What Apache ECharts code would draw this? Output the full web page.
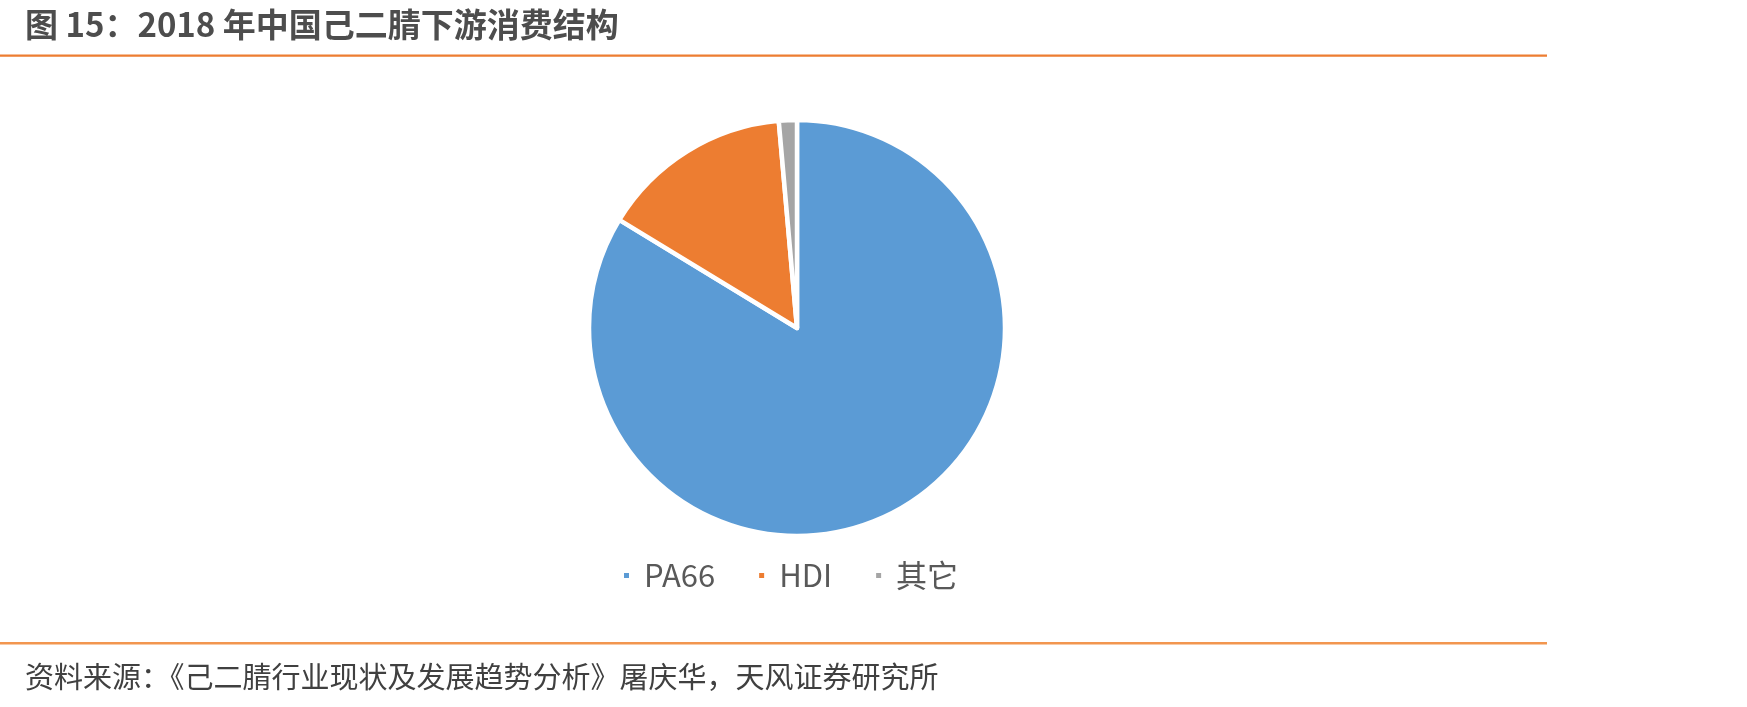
<!DOCTYPE html>
<html>
<head>
<meta charset="utf-8">
<script src="https://cdn.jsdelivr.net/npm/echarts@6/dist/echarts.min.js"></script>
<style>
html,body{margin:0;padding:0;background:#fff;}
#chart{width:1747px;height:707px;}
</style>
</head>
<body>
<div id="chart"></div>
<script>
var categories = ['PA66', 'HDI', '其它'];
var shares = [83.7, 14.9, 1.4];
var colors = ['#5B9BD5', '#ED7D31', '#A5A5A5'];
var titleText = '图 15：2018 年中国己二腈下游消费结构';
var sourceText = '资料来源：《己二腈行业现状及发展趋势分析》屠庆华，天风证券研究所';

var chart = echarts.init(document.getElementById('chart'));
var font = '"Noto Sans CJK SC", "Noto Sans", sans-serif';
chart.setOption({
  animation: false,
  backgroundColor: '#ffffff',
  color: colors,
  title: [
    {
      text: titleText,
      left: 20,
      top: 3,
      textStyle: {fontFamily: font, fontSize: 33, fontWeight: 'bold', color: '#4d4d4d'}
    },
    {
      text: sourceText,
      left: 20,
      top: 657,
      textStyle: {fontFamily: font, fontSize: 29, fontWeight: 'normal', color: '#404040'}
    }
  ],
  graphic: [
    {type: 'rect', shape: {x: 0, y: 54.5, width: 1547, height: 2.2}, style: {fill: '#ED7D31'}, silent: true},
    {type: 'rect', shape: {x: 0, y: 642, width: 1547, height: 2.4}, style: {fill: '#F2964F'}, silent: true}
  ],
  legend: {
    data: categories,
    left: 617,
    top: 555,
    icon: 'rect',
    itemWidth: 7,
    itemHeight: 7,
    itemGap: 42,
    textStyle: {fontFamily: font, fontSize: 31, color: '#595959', padding: [0, 0, 0, 9]}
  },
  series: [{
    type: 'pie',
    center: [797, 328],
    radius: 208,
    startAngle: 90,
    clockwise: true,
    label: {show: false},
    labelLine: {show: false},
    itemStyle: {borderColor: '#ffffff', borderWidth: 4.5},
    emphasis: {disabled: true},
    data: categories.map(function (c, i) { return {name: c, value: shares[i]}; })
  }]
});
</script>
</body>
</html>
